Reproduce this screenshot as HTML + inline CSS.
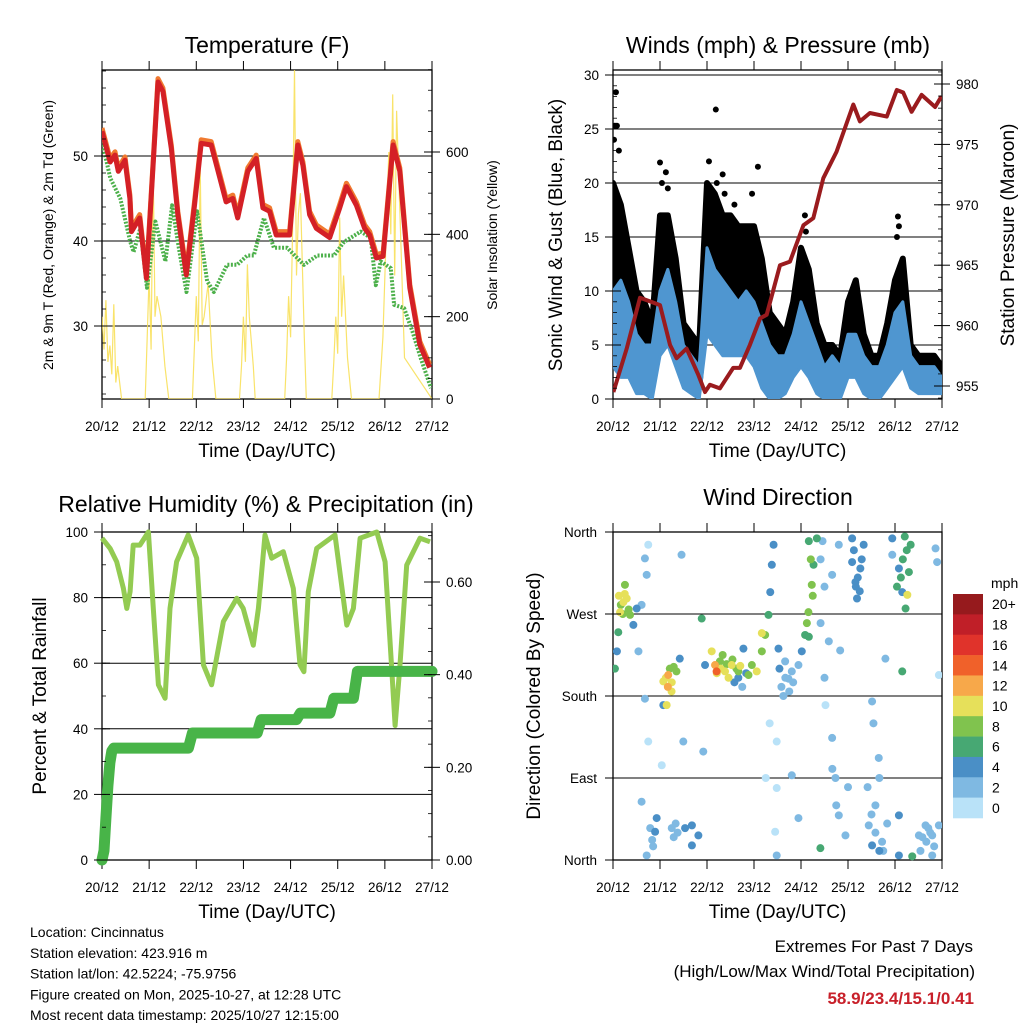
<!DOCTYPE html>
<html><head><meta charset="utf-8"><style>
html,body{margin:0;padding:0;background:#fff}
svg{display:block;font-family:"Liberation Sans",sans-serif}
</style></head><body>
<svg id="c" width="1024" height="1024" viewBox="0 0 1024 1024"></svg>
<script>
// ---------- DATA ----------
const dayLabels = ["20/12","21/12","22/12","23/12","24/12","25/12","26/12","27/12"];
// Temperature (F)
const tempHours = [0,4.1,6.6,8.3,11.7,14.2,15,19.2,22.6,26,28.5,31,35.3,38.6,42.9,47.1,50.5,55.6,63.2,66.6,69.1,74.2,78.5,81.9,85.3,88.7,95.5,99.7,102.3,105.7,109.1,115.9,121,124.4,129.5,133.7,136.3,139.7,143.1,148.2,151.6,156.7,161.8,166.8];
const tempValues = [52.9,49.3,50.1,48.2,49.5,45.0,41.1,42.7,35.6,48.9,58.7,57.6,50.9,43.1,36.0,44.2,51.5,51.3,44.6,45.0,42.7,48.2,49.7,43.9,43.5,40.7,40.7,51.3,48.9,43.1,41.5,40.4,43.9,46.4,44.2,41.5,40.7,38.0,38.2,51.3,48.2,34.5,27.8,25.1];
const dewHours = [0,4.2,9.3,14.4,16.1,19.5,22.9,27.2,32.3,35.7,39.1,43,48.4,53.5,56.9,63.7,68.8,73.9,77.3,82.4,87.5,94.3,102.8,109.6,118.1,123.2,131.7,136.8,139.4,141.9,147,148.7,153.8,158.1,162.3,167.5];
const dewValues = [51.7,47.4,45.0,39.9,38.7,41.5,34.5,42.3,37.6,44.2,39.2,34.0,43.5,35.3,34.0,37.2,37.2,38.3,38.3,42.7,39.2,39.2,37.2,38.3,38.3,39.9,41.1,40.4,34.8,37.6,36.8,32.5,32.1,29.3,26.2,22.7];
const solarHours = [0,1,2,3,4,5,6,7,8,10,22,23,24,25,26,27,28,30,32,34,46,47,48,49,50,51,52,54,56,58,70,71,72,73,74,75,77,78,93,94,95,96,97,98,99,100,101,103,104,117,118,119,120,121,122,123,125,127,141,143,144,145,146,147,148,149,150,152,154,168];
const solarValues = [200,120,240,90,130,60,230,40,80,0,0,150,300,120,580,200,250,200,80,0,0,120,250,140,570,180,200,280,100,0,0,80,200,90,327,200,80,0,0,100,250,150,400,802,300,450,500,150,0,0,90,200,110,441,200,300,100,0,0,150,300,450,600,400,740,300,700,400,100,0,0];
// Winds (mph), 4-hourly bins
const windHours = [0,4,8,12,16,20,24,28,32,36,40,44,48,52,56,60,64,68,72,76,80,84,88,92,96,100,104,108,112,116,120,124,128,132,136,140,144,148,152,156,160,164,168];
const windHigh = [10,11,9,6,5,5,10,12,9,5,4,3,14,12,11,10,9,10,9,7,5,4,4,6,9,7,5,3,4,3,6,6,4,3,3,5,8,9,4,3,3,3,2];
const windLow = [3,2,2,0.5,0.5,0,4,5,3,1,0.5,0,6,5,4,4,4,4,3,1,0,0,0.5,2,3,2,0.5,0,0,0,2,2,0.5,0,0,1,2,3,1,0.5,0.5,0.5,0.5];
const gustHigh = [20,18,14,10,9,7,17,17,13,7,6,5,20,19,17,17,16,16,16,13,8,7,6,9,14,12,7,5,5,4,9,11,6,4,4,7,11,13,5,4,4,4,3];
const gustLow = [8,9,6,3,2,2,6,8,5,2,1,1,9,10,9,8,6,8,7,4,2,2,2,3,5,4,2,1,1,1,3,4,2,1,1,2,4,5,2,2,2,2,1];
const gustOutlierHours = [1.5,2,52.5,56,24,28,74,98,145.5,0.5,1,3,25,27,49,53,57,62,71,98.5,145,146];
const gustOutlierValues = [28.4,25.3,26.8,20.8,21.9,19.5,21.5,17,16.9,24,25.3,23,20,21,22,20,19,18,19,15.5,15,16];
const pressHours = [0.2,7,13.8,18.9,24,29.1,32.5,37.6,43.6,47,49.5,54.6,61.4,64.8,69.9,75.1,78.5,85.3,90.4,97.2,102.3,107.4,114.2,122.7,126.1,131.2,139.8,144.9,148.2,152.5,157.6,164.5,167.8];
const pressValues = [954.5,958.1,962.3,962.0,961.7,958.4,957.3,958.1,955.9,954.5,955.1,954.8,956.5,956.5,958.4,960.6,960.9,965.0,965.3,968.3,968.9,972.2,974.4,978.3,976.9,977.6,977.3,979.5,979.3,977.7,979.1,978.1,979.0];
// RH (%) & precip (in)
const rhHours = [0,4.1,7.5,10.9,12.6,14.3,15.9,19.3,23.6,26.1,28.7,32.1,34.6,38,43.9,48.2,51.6,55.8,61.8,68.6,71.9,77,79.6,83,86.4,92.3,97.4,100.8,102.8,105,109.3,118.6,122,124.6,128,131.4,139.9,144.1,147.5,149.2,151.7,155.1,161.9,167];
const rhValues = [98.1,95,90.9,82.8,76.7,81.8,96,96,100,76.7,53.4,49.3,76.7,90.9,99.1,92,59.5,53.4,72.7,79.8,76.7,65.5,76.7,99.1,92,94,82.8,59.5,57.4,81.8,95,99.1,83.8,71.6,76.7,98.1,100,90.9,58.4,41,59.5,89.9,98.1,97];
const precipHours = [0,1,2,3,4,5,6,44,46,79,81,99,101,116,118,128,130,168];
const precipValues = [0,0.02,0.09,0.16,0.21,0.235,0.2415,0.2415,0.274,0.274,0.303,0.303,0.317,0.317,0.349,0.349,0.407,0.407];
// Wind direction: hour, degrees, speed (mph) — 10 per row
const dirHours = [
1,2,2.7,3.6,5.3,7,6.1,8.7,10.4,13,
12.1,14.6,16.3,18,17.2,16.3,18,24.9,14.6,21.5,
22.3,17.2,25.7,28.2,29.9,27.4,32.4,25.7,34.1,35,
35.9,36.8,40.3,43.6,40.3,46.1,45.3,47,50.4,52.1,
52.9,54.6,57.2,60.6,64,66.6,69.2,70.9,73.4,76,
77.7,76,79.4,80.3,81.1,82,84.5,87.9,91.3,94.7,
89.6,96.4,98.1,99.8,101.5,102.4,104.1,83.6,83.6,82.8,
83.6,91.3,94.7,105.9,108.5,111.9,113.6,115.3,110.2,111.9,
115.3,118.7,122.1,123.8,124.6,126.3,128,122.1,132.3,135.7,
130.6,132.3,137.4,142.6,142.6,146,147.7,149.4,150.3,151.1,
152,147.7,139.1,146,146,152.8,156.2,159.6,163,166.4,
165.5,166.4,164.7,20,19,20.5,30,31,32,33,
62,64,66,68,86,88,90,92,85,87,
124,125,126,127,123,145,147,148,150,149,
158,160,162,164,161,157,163,100,101,102,
99,100,55,58,59,61,63,65,53,56,
27,28,29,30,31,3,4,5,6,8,
78,80,106,108,112,114,120,133,134,136,
130,132,134,136,138,140,106,107,108,116];
const dirDegrees = [
210,229,250,272,283,287,302,269,258,229,
276,280,331,346,313,177,130,104,64,31,
46,5,196,203,185,170,207,170,221,335,
130,35,38,27,16,119,265,214,229,214,
207,218,207,214,207,232,203,214,207,229,
247,249,269,294,324,346,232,218,207,214,
199,229,247,272,302,324,353,130,79,31,
5,93,46,13,170,134,90,49,240,313,
346,27,327,305,287,320,346,353,174,112,
38,16,20,353,335,320,294,276,291,316,
346,207,221,49,5,4,27,38,27,38,
327,203,342,22,35,15,35,25,40,30,
195,200,190,205,190,200,185,195,210,180,
300,310,295,330,340,300,310,330,340,355,
25,20,30,15,35,10,5,350,330,290,
260,245,210,215,200,220,210,213,205,225,
200,190,210,195,212,290,280,270,292,275,
90,150,260,200,100,60,80,150,60,90,
80,50,30,10,10,40,330,350,300,230];
const dirSpeeds = [
6,4,6,10,9,10,7,8,4,2,
4,2,1,0,2,1,0,0,1,3,
3,1,9,12,10,9,7,4,4,1,
1,3,3,3,3,1,6,4,9,11,
14,8,10,9,8,4,8,7,10,8,
7,10,6,4,4,4,3,2,2,2,
2,4,6,7,8,6,6,0,0,0,
1,1,1,6,0,1,1,1,1,1,
1,2,4,4,4,3,4,3,1,1,
2,3,2,3,2,4,4,6,10,6,
6,6,1,3,4,6,2,2,2,2,
1,0,1,2,2,2,2,2,2,2,
3,3,2,3,2,2,2,2,3,2,
4,4,3,4,3,5,6,6,6,6,
2,2,2,2,2,2,2,6,7,8,
7,6,9,8,9,8,8,9,10,8,
10,11,8,9,7,9,8,8,10,7,
0,0,1,1,1,1,1,1,1,1,
2,2,2,3,2,2,2,1,1,1];
const speedLabels = ["0","2","4","6","8","10","12","14","16","18","20+"];
const speedColors = ["#b9e2f8","#7fb9e2","#4a8fc6","#47a873","#80c34e","#e6e05a","#f7a84a","#f0612a","#e0332b","#c01f28","#961a1d"];

// ---------- HELPERS ----------
const NS="http://www.w3.org/2000/svg";
const svg=document.getElementById('c');
function mk(tag,attrs,parent){const e=document.createElementNS(NS,tag);for(const k in attrs)e.setAttribute(k,attrs[k]);(parent||svg).appendChild(e);return e;}
function txt(s,x,y,size,anchor,parent,extra){const e=mk('text',Object.assign({x:x,y:y,'font-size':size,'text-anchor':anchor||'middle',fill:'#000'},extra||{}),parent);e.textContent=s;return e;}
function lin(d0,d1,r0,r1){return v=>r0+(v-d0)/(d1-d0)*(r1-r0);}
function pathFrom(xs,ys,fx,fy){return xs.map((h,i)=>(i?'L':'M')+fx(h).toFixed(1)+','+fy(ys[i]).toFixed(1)).join('');}

function panelFrame(L,T,R,B,gridYs,name){
  const g=mk('g',{});
  
  
  gridYs.forEach(y=>mk('line',{x1:L,x2:R,y1:y,y2:y,stroke:'#000','stroke-width':1},g));
  mk('rect',{x:L,y:T,width:R-L,height:B-T,fill:'none',stroke:'#000','stroke-width':1.3},g);
  const fx=lin(0,168,L,R);
  dayLabels.forEach((d,i)=>{
    const x=fx(i*24);
    mk('line',{x1:x,x2:x,y1:B,y2:B+9,stroke:'#000','stroke-width':1},g);
    mk('line',{x1:x,x2:x,y1:T,y2:T-9,stroke:'#000','stroke-width':1},g);
    const t=txt(d,x,B+32,13.5,'middle',g);
    
    
  });
  const xt=txt('Time (Day/UTC)',(L+R)/2,B+58,19);
  
  
  return fx;
}
function yTicks(vals,labels,fy,x,side,minorVals,name){
  const g=mk('g',{});
  
  
  vals.forEach((v,i)=>{
    const y=fy(v);
    const dir=side==='left'?1:-1;
    mk('line',{x1:x,x2:x+dir*8,y1:y,y2:y,stroke:'#000','stroke-width':1},g);
    mk('line',{x1:x,x2:x-dir*8,y1:y,y2:y,stroke:'#000','stroke-width':1},g);
    txt(labels[i],side==='left'?x-14:x+14,y+5,13.5,side==='left'?'end':'start',g);
  });
  (minorVals||[]).forEach(v=>{const y=fy(v);const dir=side==='left'?1:-1;mk('line',{x1:x,x2:x+dir*4,y1:y,y2:y,stroke:'#000','stroke-width':0.8},g);});
}
function rotText(s,x,y,size,name){
  const t=txt(s,x,y,size,'middle',null,{transform:'rotate(-90 '+x+' '+y+')'});
  
  
}
function title(s,x,y,name){const t=txt(s,x,y,23);}
function range(a,b,s){const r=[];for(let v=a;v<=b+1e-9;v+=s)r.push(+v.toFixed(4));return r;}

// ---------- PANEL 1: TEMPERATURE ----------
(function(){
  const L=102,T=70,R=432,B=399;
  const fyT=lin(30,50,326,156), fyS=lin(0,600,399,152);
  title('Temperature (F)',267,53,'temperature-title');
  const fx=panelFrame(L,T,R,B,[fyT(30),fyT(40),fyT(50)],'temperature');
  const clip=mk('clipPath',{id:'cp1'});mk('rect',{x:L,y:T,width:R-L,height:B-T},clip);
  const g=mk('g',{'clip-path':'url(#cp1)'});
  const sp=mk('path',{d:pathFrom(solarHours,solarValues,fx,fyS),fill:'none',stroke:'#f8de50','stroke-width':1.2,'stroke-opacity':0.85},g);
  
  
  const dp=mk('path',{d:pathFrom(dewHours,dewValues,fx,fyT),fill:'none',stroke:'#4cb04a','stroke-width':4,'stroke-dasharray':'2 1.5','stroke-linejoin':'round'},g);
  
  
  const op=mk('path',{d:pathFrom(tempHours,tempValues.map(v=>v+0.4),fx,fyT),fill:'none',stroke:'#f07a30','stroke-width':5,'stroke-linejoin':'round'},g);
  
  
  const rp=mk('path',{d:pathFrom(tempHours,tempValues,fx,fyT),fill:'none',stroke:'#d42026','stroke-width':5,'stroke-linejoin':'round'},g);
  
  
  yTicks([30,40,50],['30','40','50'],fyT,L,'left',range(22,60,2),'temperature-y-axis');
  yTicks([0,200,400,600],['0','200','400','600'],fyS,R,'right',range(0,800,50),'solar-y-axis');
  rotText('2m & 9m T (Red, Orange) & 2m Td (Green)',53,235,14,'temperature-y-axis-title');
  rotText('Solar Insolation (Yellow)',497,235,14,'solar-y-axis-title');
})();

// ---------- PANEL 2: WINDS ----------
(function(){
  const L=613,T=70,R=942,B=399;
  const fyW=lin(0,30,399,75), fyP=lin(955,980,386,84);
  title('Winds (mph) & Pressure (mb)',778,53,'winds-title');
  const fx=panelFrame(L,T,R,B,range(5,30,5).map(fyW),'winds');
  const clip=mk('clipPath',{id:'cp2'});mk('rect',{x:L,y:T-2,width:R-L,height:B-T+2},clip);
  const g=mk('g',{'clip-path':'url(#cp2)'});
  const band=(hi,lo)=>pathFrom(windHours,hi,fx,fyW)+pathFrom(windHours.slice().reverse(),lo.slice().reverse(),fx,fyW).replace('M','L')+'Z';
  const gb=mk('path',{d:band(gustHigh,gustLow),fill:'#000',stroke:'#000','stroke-width':6,'stroke-linejoin':'round'},g);
  
  
  gustOutlierHours.forEach((h,i)=>{
    const c=mk('circle',{cx:fx(h),cy:fyW(gustOutlierValues[i]),r:3,fill:'#000'},g);
    
    
  });
  const wb=mk('path',{d:band(windHigh,windLow),fill:'#4f96d0',stroke:'#4f96d0','stroke-width':3,'stroke-linejoin':'round'},g);
  
  
  const pp=mk('path',{d:pathFrom(pressHours,pressValues,fx,fyP),fill:'none',stroke:'#9a1b1e','stroke-width':4,'stroke-linejoin':'round'},g);
  
  
  yTicks(range(0,30,5),['0','5','10','15','20','25','30'],fyW,L,'left',range(1,30,1),'wind-y-axis');
  yTicks(range(955,980,5),['955','960','965','970','975','980'],fyP,R,'right',range(954,981,1),'pressure-y-axis');
  rotText('Sonic Wind & Gust (Blue, Black)',562,235,19,'wind-y-axis-title');
  rotText('Station Pressure (Maroon)',1014,235,19,'pressure-y-axis-title');
})();

// ---------- PANEL 3: RH & PRECIP ----------
(function(){
  const L=102,T=532,R=432,B=860;
  const fyR=lin(0,100,860,532), fyPr=lin(0,0.6,860,582);
  title('Relative Humidity (%) & Precipitation (in)',266,512,'humidity-precip-title');
  const fx=panelFrame(L,T,R,B,[20,40,60,80].map(fyR),'humidity');
  const clip=mk('clipPath',{id:'cp3'});mk('rect',{x:L-8,y:T-6,width:R-L+16,height:B-T+12},clip);
  const g=mk('g',{'clip-path':'url(#cp3)'});
  const rp=mk('path',{d:pathFrom(rhHours,rhValues,fx,fyR),fill:'none',stroke:'#93cb52','stroke-width':5,'stroke-linejoin':'round'},g);
  
  
  const pp=mk('path',{d:pathFrom(precipHours,precipValues,fx,fyPr),fill:'none',stroke:'#48b448','stroke-width':11,'stroke-linejoin':'round','stroke-linecap':'round'},g);
  
  
  yTicks([0,20,40,60,80,100],['0','20','40','60','80','100'],fyR,L,'left',range(0,100,10),'humidity-y-axis');
  yTicks([0,0.2,0.4,0.6],['0.00','0.20','0.40','0.60'],fyPr,R,'right',range(0,0.7,0.05),'precip-y-axis');
  rotText('Percent & Total Rainfall',46,696,19,'humidity-y-axis-title');
})();

// ---------- PANEL 4: WIND DIRECTION ----------
(function(){
  const L=613,T=532,R=942,B=860;
  const fyD=lin(0,360,860,532);
  title('Wind Direction',778,505,'wind-direction-title');
  const fx=panelFrame(L,T,R,B,[90,180,270].map(fyD),'wind-direction');
  const clip=mk('clipPath',{id:'cp4'});mk('rect',{x:L,y:T-4,width:R-L,height:B-T+8},clip);
  const g=mk('g',{'clip-path':'url(#cp4)'});
  
  
  const n=Math.min(dirHours.length,dirDegrees.length,dirSpeeds.length);
  const order=[];for(let i=0;i<n;i++)order.push(i);
  order.sort((a,b)=>dirSpeeds[a]-dirSpeeds[b]);
  order.forEach(i=>{
    const s=dirSpeeds[i];
    const ci=Math.min(10,Math.round(s/2));
    const c=mk('circle',{cx:fx(dirHours[i]),cy:fyD(dirDegrees[i]),r:4,fill:speedColors[ci]},g);
    
    
  });
  const dl=['North','East','South','West','North'];
  const ag=mk('g',{});
  
  
  [0,90,180,270,360].forEach((v,i)=>{
    const y=fyD(v);
    mk('line',{x1:L,x2:L+8,y1:y,y2:y,stroke:'#000'},ag);
    mk('line',{x1:L,x2:L-8,y1:y,y2:y,stroke:'#000'},ag);
    txt(dl[i],L-16,y+5,13.5,'end',ag);
  });
  rotText('Direction (Colored By Speed)',540,696,19,'direction-y-axis-title');
  const cb=mk('g',{});
  
  
  const top=594,h=224/11;
  speedColors.slice().reverse().forEach((c,i)=>{
    mk('rect',{x:953,y:top+i*h,width:30,height:h+0.3,fill:c},cb);
    txt(speedLabels[10-i],992,top+i*h+h/2+5,14,'start',cb);
  });
  txt('mph',991,588,14,'start',cb);
})();

// ---------- FOOTER TEXT ----------
(function(){
  const lines=['Location: Cincinnatus','Station elevation: 423.916 m','Station lat/lon: 42.5224; -75.9756','Figure created on Mon, 2025-10-27, at 12:28 UTC','Most recent data timestamp: 2025/10/27 12:15:00'];
  const g=mk('g',{});
  
  
  lines.forEach((s,i)=>txt(s,30,937+i*20.8,14,'start',g));
  const r=mk('g',{});
  
  
  txt('Extremes For Past 7 Days',973,952,17,'end',r);
  txt('(High/Low/Max Wind/Total Precipitation)',975,977,17,'end',r);
  txt('58.9/23.4/15.1/0.41',974,1004,17,'end',r,{fill:'#c8202a','font-weight':'bold'});
})();
</script>
</body></html>
